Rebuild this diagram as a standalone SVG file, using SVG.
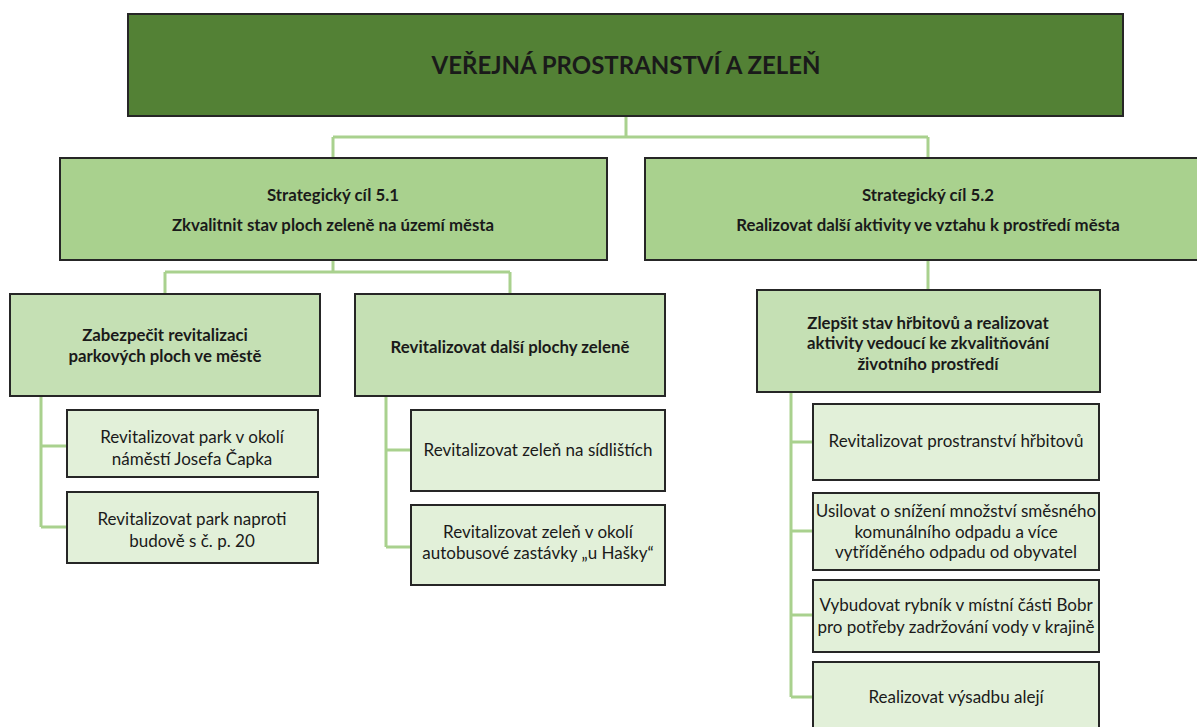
<svg xmlns="http://www.w3.org/2000/svg" width="1197" height="727" viewBox="0 0 1197 727">
<style>
.box{stroke:#262626;stroke-width:2}
.l0{fill:#538135}
.l1{fill:#A9D18E}
.l2{fill:#C5E0B4}
.l3{fill:#E2F0D9}
.conn{fill:none;stroke:#A9D18E;stroke-width:3}
text{font-family:Lato,"Open Sans","Liberation Sans",sans-serif;fill:#1a1a1a;text-anchor:middle}
.b{font-weight:bold;font-size:16.8px}
.r{font-size:17px}
.t{font-weight:bold;font-size:24px}
</style>
<rect width="1197" height="727" fill="#fff"/>
<g id="connectors">
<path class="conn" d="M626 116V137M333 137H928M333 137V158M928 137V158"/>
<path class="conn" d="M333 260V272M165 272H510M165 272V294M510 272V294"/>
<path class="conn" d="M928 260V290"/>
<path class="conn" d="M41 396V527M41 446H67M41 527H67"/>
<path class="conn" d="M386 396V547M386 450H411M386 547H411"/>
<path class="conn" d="M791 392V697M791 442H813M791 531H813M791 615H813M791 697H813"/>
</g>
<g id="root"><rect class="box l0" x="128" y="14" width="995" height="102"/><text class="t" x="626" y="74">VEŘEJNÁ PROSTRANSTVÍ A ZELEŇ</text></g>
<g id="sc51"><rect class="box l1" x="60" y="158" width="547" height="102"/><text class="b" x="333" y="201">Strategický cíl 5.1</text><text class="b" x="333" y="231">Zkvalitnit stav ploch zeleně na území města</text></g>
<g id="sc52"><rect class="box l1" x="645" y="158" width="560" height="102"/><text class="b" x="928" y="201">Strategický cíl 5.2</text><text class="b" x="928" y="231">Realizovat další aktivity ve vztahu k prostředí města</text></g>
<g id="a"><rect class="box l2" x="10" y="294" width="310" height="102"/><text class="b" x="165" y="341">Zabezpečit revitalizaci</text><text class="b" x="165" y="362">parkových ploch ve městě</text></g>
<g id="b"><rect class="box l2" x="355" y="294" width="310" height="102"/><text class="b" x="510" y="353">Revitalizovat další plochy zeleně</text></g>
<g id="c"><rect class="box l2" x="757" y="290" width="343" height="102"/><text class="b" x="928" y="329">Zlepšit stav hřbitovů a realizovat</text><text class="b" x="928" y="349">aktivity vedoucí ke zkvalitňování</text><text class="b" x="928" y="370">životního prostředí</text></g>
<g id="a1"><rect class="box l3" x="67" y="410" width="251" height="67"/><text class="r" x="192" y="443">Revitalizovat park v okolí</text><text class="r" x="192" y="465">náměstí Josefa Čapka</text></g>
<g id="a2"><rect class="box l3" x="67" y="492" width="251" height="71"/><text class="r" x="192" y="525">Revitalizovat park naproti</text><text class="r" x="192" y="547">budově s č. p. 20</text></g>
<g id="b1"><rect class="box l3" x="411" y="410" width="254" height="81"/><text class="r" x="538" y="456">Revitalizovat zeleň na sídlištích</text></g>
<g id="b2"><rect class="box l3" x="411" y="505" width="254" height="80"/><text class="r" x="538" y="538">Revitalizovat zeleň v okolí</text><text class="r" x="538" y="559">autobusové zastávky „u Hašky“</text></g>
<g id="c1"><rect class="box l3" x="813" y="404" width="286" height="76"/><text class="r" x="956" y="447">Revitalizovat prostranství hřbitovů</text></g>
<g id="c2"><rect class="box l3" x="813" y="493" width="286" height="77"/><text class="r" x="956" y="517">Usilovat o snížení množství směsného</text><text class="r" x="956" y="538">komunálního odpadu a více</text><text class="r" x="956" y="558">vytříděného odpadu od obyvatel</text></g>
<g id="c3"><rect class="box l3" x="813" y="580" width="286" height="72"/><text class="r" x="956" y="611">Vybudovat rybník v místní části Bobr</text><text class="r" x="956" y="633">pro potřeby zadržování vody v krajině</text></g>
<g id="c4"><rect class="box l3" x="813" y="662" width="286" height="80"/><text class="r" x="956" y="703">Realizovat výsadbu alejí</text></g>
</svg>
